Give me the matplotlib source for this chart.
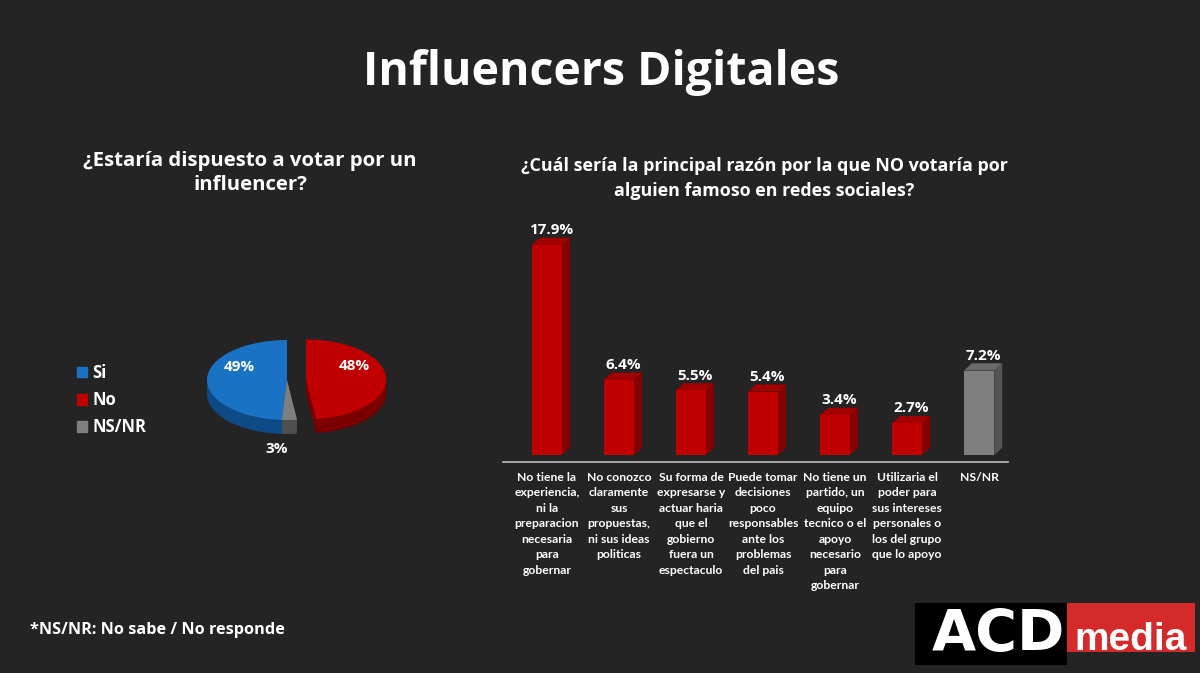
import numpy as np
import matplotlib
matplotlib.use("Agg")
import matplotlib.pyplot as plt
from matplotlib.patches import Polygon, Rectangle, Patch

plt.rcParams['font.family'] = ['Open Sans', 'DejaVu Sans']

# DATA
pie_labels = ['Si', 'No', 'NS/NR']
pie_values = [49, 48, 3]
pie_colors = ['#1a72c4', '#c00000', '#7f7f7f']
pie_side_colors = ['#0e4a85', '#7a0000', '#4f4f4f']

reasons = [
    'No tiene la\nexperiencia,\nni la\npreparacion\nnecesaria\npara\ngobernar',
    'No conozco\nclaramente\nsus\npropuestas,\nni sus ideas\npoliticas',
    'Su forma de\nexpresarse y\nactuar haria\nque el\ngobierno\nfuera un\nespectaculo',
    'Puede tomar\ndecisiones\npoco\nresponsables\nante los\nproblemas\ndel pais',
    'No tiene un\npartido, un\nequipo\ntecnico o el\napoyo\nnecesario\npara\ngobernar',
    'Utilizaria el\npoder para\nsus intereses\npersonales o\nlos del grupo\nque lo apoyo',
    'NS/NR',
]
reason_values = [17.9, 6.4, 5.5, 5.4, 3.4, 2.7, 7.2]
bar_front = ['#c00000'] * 6 + ['#7f7f7f']
bar_side = ['#850000'] * 6 + ['#555555']
bar_top = ['#a00000'] * 6 + ['#6a6a6a']

W, H = 1200, 673
def fx(px):
    return px / W
def fy(py):
    return 1 - py / H

fig = plt.figure(figsize=(12, 6.73), dpi=100, facecolor='#242424')

# TITLES
fig.text(fx(601), fy(72), 'Influencers Digitales', color='white', fontsize=33.5,
         fontweight='bold', ha='center', va='center')
fig.text(fx(250), fy(173), '¿Estaría dispuesto a votar por un\ninfluencer?', color='white',
         fontsize=14.7, fontweight='bold', ha='center', va='center', linespacing=1.25)
fig.text(fx(764), fy(179), '¿Cuál sería la principal razón por la que NO votaría por\nalguien famoso en redes sociales?',
         color='white', fontsize=12.9, fontweight='bold', ha='center', va='center', linespacing=1.5)

# PIE (fake 3D with stacked layers)
axp = fig.add_axes([fx(167), fy(460), fx(240), 140 / H])
explode = [0, 0.24, 0]
start = 90 + 360 * pie_values[0] / sum(pie_values)
thick = 0.35
for k in range(12, 0, -1):
    off = -thick * k / 12
    axp.pie(pie_values, colors=pie_side_colors, explode=explode, startangle=start,
            counterclock=False, center=(0, off), radius=1.0,
            wedgeprops=dict(linewidth=0))
wedges, _ = axp.pie(pie_values, colors=pie_colors, explode=explode, startangle=start,
                    counterclock=False, center=(0, 0), radius=1.0,
                    wedgeprops=dict(linewidth=0))
axp.set_aspect('auto')
axp.set_xlim(-1.5, 1.5)
axp.set_ylim(-2.0, 1.5)
axp.axis('off')
for i, w in enumerate(wedges):
    mid = np.deg2rad((w.theta1 + w.theta2) / 2)
    cx, cy = w.center
    if pie_values[i] > 10:
        tx, ty = cx + 0.6 * np.cos(mid), cy + 0.6 * np.sin(mid) + 0.3
    else:
        tx, ty = cx + 0.6 * np.cos(mid) - 0.15, -1.72
    axp.text(tx, ty, f'{pie_values[i]}%', color='white', fontsize=11, fontweight='bold',
             ha='center', va='center', clip_on=False)

handles = [Patch(color=c) for c in pie_colors]
fig.legend(handles, pie_labels, loc='upper left', bbox_to_anchor=(fx(62), fy(349)),
           frameon=False, labelcolor='white', prop=dict(size=12, weight='bold'),
           handlelength=0.6, handleheight=0.6, handletextpad=0.3, labelspacing=0.55)

# BARS (fake 3D)
axb = fig.add_axes([fx(503), fy(462), fx(505), (462 - 215) / H])
axb.set_facecolor('none')
x = np.arange(len(reason_values))
bw = 0.42
dx, dy = 0.11, 0.62
axb.bar(x, reason_values, width=bw, color=bar_front, zorder=3)
for i, v in enumerate(reason_values):
    x0, x1 = i - bw / 2, i + bw / 2
    axb.add_patch(Polygon([(x1, 0), (x1, v), (x1 + dx, v + dy), (x1 + dx, dy)],
                          closed=True, facecolor=bar_side[i], edgecolor='none', zorder=2))
    axb.add_patch(Polygon([(x0, v), (x1, v), (x1 + dx, v + dy), (x0 + dx, v + dy)],
                          closed=True, facecolor=bar_top[i], edgecolor='none', zorder=2))
    axb.text(i + dx / 2, v + dy + 0.05, f'{v}%', color='white', fontsize=11,
             fontweight='bold', ha='center', va='bottom')
axb.set_xlim(-0.61, 6.4)
axb.set_ylim(-0.6, 20.46)
for s in ['top', 'left', 'right']:
    axb.spines[s].set_visible(False)
axb.spines['bottom'].set_color('#bfbfbf')
axb.spines['bottom'].set_linewidth(1.2)
axb.set_yticks([])
axb.set_xticks(x)
axb.set_xticklabels(reasons, color='white', fontsize=8.7, fontweight='bold',
                    family=['Lato', 'DejaVu Sans'], linespacing=1.5, va='top')
axb.tick_params(axis='x', length=0, pad=7)

# FOOTNOTE
fig.text(fx(30), fy(630), '*NS/NR: No sabe / No responde', color='white', fontsize=11.7,
         fontweight='bold', ha='left', va='center')

# LOGO
fig.patches.append(Rectangle((fx(915), fy(665)), fx(152), 62 / H, transform=fig.transFigure,
                             facecolor='black', edgecolor='none'))
fig.patches.append(Rectangle((fx(1067), fy(652)), fx(128), 49 / H, transform=fig.transFigure,
                             facecolor='#d42a2a', edgecolor='none'))
fig.text(fx(998), fy(636), 'ACD', color='white', fontsize=41, fontweight='bold',
         family=['DejaVu Sans'], ha='center', va='center')
fig.text(fx(1131), fy(650), 'media', color='white', fontsize=28, fontweight='bold',
         family=['Liberation Sans'], ha='center', va='baseline')

fig.savefig('out.png', dpi=100, facecolor=fig.get_facecolor())
